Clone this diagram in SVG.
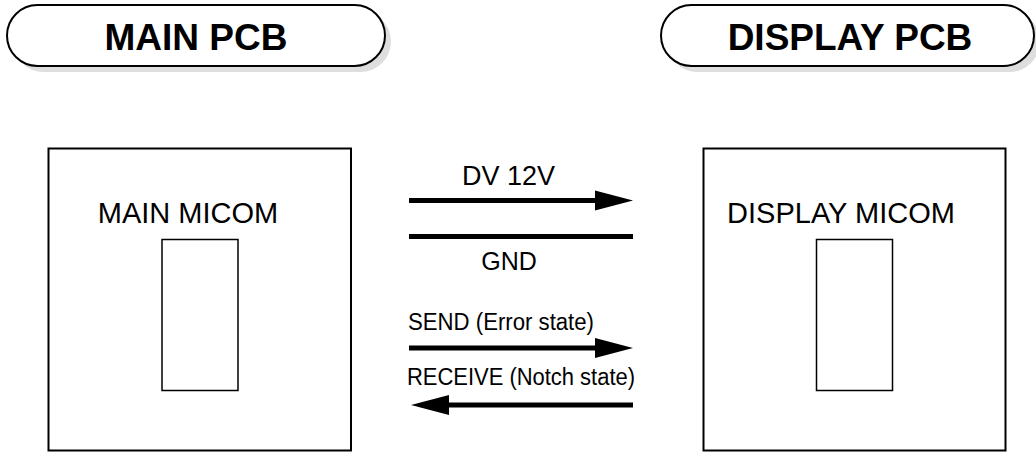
<svg xmlns="http://www.w3.org/2000/svg" width="1036" height="452" viewBox="0 0 1036 452">
<style>
.pill{fill:#fff;stroke:#000;stroke-width:2}
.shadow{fill:#dedede}
.box{fill:#fff;stroke:#000;stroke-width:2}
.chip{fill:#fff;stroke:#000;stroke-width:1.5}
.title{font-family:"Liberation Sans",Arial,sans-serif;font-weight:bold;font-size:37px;text-anchor:middle}
.lbl{font-family:"Liberation Sans",Arial,sans-serif;font-size:29px;text-anchor:middle}
.sig{font-family:"Liberation Sans",Arial,sans-serif;text-anchor:middle}
.wire{stroke:#000;stroke-width:5;fill:none}
</style>
<defs>
<marker id="ah" markerUnits="userSpaceOnUse" markerWidth="38" markerHeight="20" refX="2" refY="10" orient="auto" overflow="visible">
<path d="M0,0 L38,10 L0,20 Z" fill="#000"/>
</marker>
</defs>
<g id="main-pcb">
<rect class="shadow" x="13" y="11" width="378" height="61" rx="30.5"/>
<rect class="pill" x="7" y="5" width="378" height="61" rx="30.5"/>
<text class="title" x="196" y="50">MAIN PCB</text>
</g>
<g id="display-pcb">
<rect class="shadow" x="667" y="11" width="373" height="61" rx="30.5"/>
<rect class="pill" x="661" y="5" width="373" height="61" rx="30.5"/>
<text class="title" x="850" y="50">DISPLAY PCB</text>
</g>
<g id="main-micom">
<rect class="box" x="48.5" y="148.5" width="302.5" height="302"/>
<text class="lbl" x="188" y="223">MAIN MICOM</text>
<rect class="chip" x="162" y="239.5" width="76" height="151"/>
</g>
<g id="display-micom">
<rect class="box" x="703.5" y="148.5" width="302" height="302"/>
<text class="lbl" x="841" y="223">DISPLAY MICOM</text>
<rect class="chip" x="816.5" y="239.5" width="76" height="151"/>
</g>
<g id="connectors">
<line class="wire" x1="409" y1="200.5" x2="597" y2="200.5" marker-end="url(#ah)"/>
<line class="wire" x1="409" y1="236.5" x2="633" y2="236.5"/>
<line class="wire" x1="409" y1="348" x2="597" y2="348" marker-end="url(#ah)"/>
<line class="wire" x1="633" y1="405" x2="447" y2="405" marker-end="url(#ah)"/>
<text class="sig" x="508.5" y="185" font-size="27">DV 12V</text>
<text class="sig" x="509" y="270" font-size="25">GND</text>
<text class="sig" x="501" y="330" font-size="23" textLength="186" lengthAdjust="spacingAndGlyphs">SEND (Error state)</text>
<text class="sig" x="521" y="385" font-size="23" textLength="228" lengthAdjust="spacingAndGlyphs">RECEIVE (Notch state)</text>
</g>
</svg>
